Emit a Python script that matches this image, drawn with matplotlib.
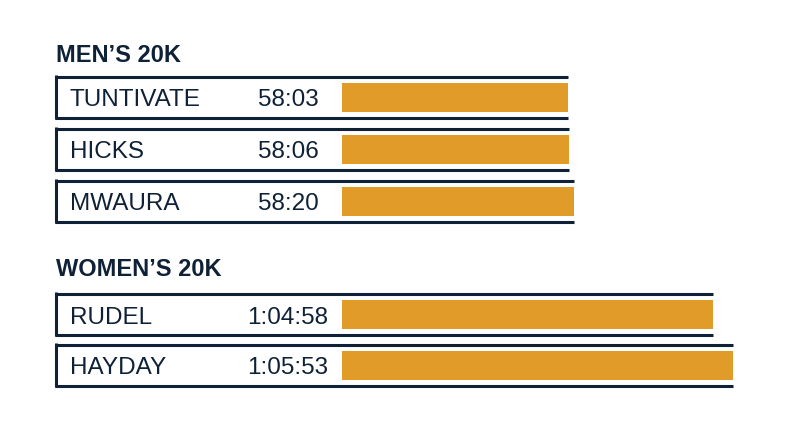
import matplotlib
matplotlib.use("Agg")
import matplotlib.pyplot as plt

# race results (finish times in seconds)
men_names = ["TUNTIVATE", "HICKS", "MWAURA"]
men_times = ["58:03", "58:06", "58:20"]
men_secs = [3483, 3486, 3500]

women_names = ["RUDEL", "HAYDAY"]
women_times = ["1:04:58", "1:05:53"]
women_secs = [3898, 3953]

group_titles = ["MEN\u2019S 20K", "WOMEN\u2019S 20K"]

NAVY = "#0f2136"
GOLD = "#e09b28"

W, H = 800, 447
BAR_START = 342      # pixel where bars begin
BASE = 2839          # seconds at the bar start
PX_PER_SEC = 0.3507


def px(x):
    """pixel x -> data x (seconds)"""
    return BASE + (x - BAR_START) / PX_PER_SEC


fig = plt.figure(figsize=(W / 100, H / 100), dpi=100)
ax = fig.add_axes([0, 0, 1, 1])
ax.set_xlim(px(0), px(W))
ax.set_ylim(H, 0)
ax.axis("off")

lw = 2.2
box_half = 20.5
bar_h = 29


def draw_group(title, title_y, names, times, secs, row0, pitch):
    ax.text(px(56), title_y, title, fontsize=17, fontweight="bold",
            color=NAVY, family="Liberation Sans", va="baseline", ha="left")
    for i, (name, t, s) in enumerate(zip(names, times, secs)):
        yc = row0 + i * pitch
        top, bot = yc - box_half, yc + box_half
        ax.hlines([top, bot], px(55), s, color=NAVY, lw=lw)
        ax.vlines(px(56), top - 1.5, bot + 1.5, color=NAVY, lw=lw)
        ax.barh(yc, s - BASE, left=BASE, height=bar_h, color=GOLD)
        ax.text(px(70), yc + 9.5, name, fontsize=17.5, color=NAVY,
                family="Liberation Sans", va="baseline", ha="left")
        ax.text(px(288), yc + 9.5, t, fontsize=17.5, color=NAVY,
                family="Liberation Sans", va="baseline", ha="center")


draw_group(group_titles[0], 62.3, men_names, men_times, men_secs, 97, 52)
draw_group(group_titles[1], 275.7, women_names, women_times, women_secs, 314, 51)

fig.savefig("out.png", dpi=100, facecolor="white")
